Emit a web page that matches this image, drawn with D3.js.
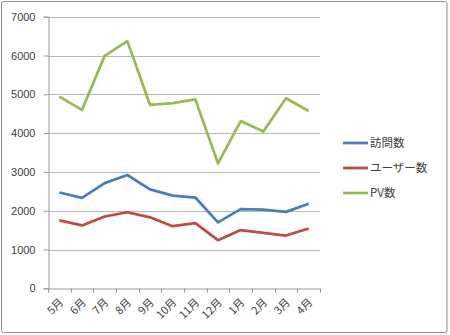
<!DOCTYPE html>
<html><head><meta charset="utf-8">
<script src="https://cdn.jsdelivr.net/npm/d3@7"></script>
<style>
html,body{margin:0;padding:0;background:#fff;}
svg{display:block;font-family:"Noto Sans CJK JP","Noto Sans",sans-serif;}
</style></head>
<body>
<script>
// Monthly access statistics
const months = ["5月","6月","7月","8月","9月","10月","11月","12月","1月","2月","3月","4月"];
const visits = [2470,2330,2710,2920,2550,2390,2340,1700,2040,2030,1970,2180];
const users  = [1750,1620,1850,1960,1830,1600,1680,1240,1500,1430,1360,1540];
const pv     = [4940,4600,5990,6370,4730,4770,4870,3220,4310,4040,4900,4570];
const seriesNames = ["訪問数","ユーザー数","PV数"];
const seriesColors = ["#4a7ebb","#be4b48","#98b954"];
const yTicks = [0,1000,2000,3000,4000,5000,6000,7000];

const W = 450, H = 335;
const svg = d3.select("body").append("svg").attr("width", W).attr("height", H);

// chart area border
svg.append("rect").attr("x",1.5).attr("y",1.5).attr("width",445.5).attr("height",331)
  .attr("fill","#fff").attr("stroke","#8c8c8c").attr("stroke-width",1).attr("rx",2);

const plotL = 48, plotR = 320, plotT = 16.7, plotB = 288.3;
const x = d3.scaleBand().domain(months).range([plotL, plotR]);
const y = d3.scaleLinear().domain([0, 7000]).range([plotB, plotT]);

// horizontal gridlines
svg.append("g").selectAll("line").data(yTicks.filter(d => d > 0)).join("line")
  .attr("x1", plotL).attr("x2", plotR)
  .attr("y1", d => Math.round(y(d)) + 0.5).attr("y2", d => Math.round(y(d)) + 0.5)
  .attr("stroke","#b8b8b8").attr("stroke-width",1);

// y axis
const yAxis = svg.append("g").attr("transform",`translate(${plotL+0.5},0)`)
  .call(d3.axisLeft(y).tickValues(yTicks).tickSize(5).tickPadding(8).tickFormat(d3.format("d")));
yAxis.select(".domain").attr("stroke","#9a9a9a");
yAxis.selectAll(".tick line").attr("stroke","#9a9a9a");
yAxis.selectAll("text").attr("fill","#404040").style("font-size","11px")
  .style("font-family","'Liberation Sans','DejaVu Sans',sans-serif");

// x axis
const xAxis = svg.append("g").attr("transform",`translate(0,${Math.round(plotB)+0.5})`)
  .call(d3.axisBottom(x).tickSize(4).tickFormat(""));
xAxis.select(".domain").attr("stroke","#9a9a9a");
xAxis.selectAll(".tick line").remove();
xAxis.selectAll(".edge").data(d3.range(months.length + 1)).join("line")
  .attr("x1", i => Math.round(plotL + i * x.step()) + 0.5)
  .attr("x2", i => Math.round(plotL + i * x.step()) + 0.5)
  .attr("y1", 0).attr("y2", 4).attr("stroke","#9a9a9a");

// rotated month labels
svg.append("g").selectAll("text").data(months).join("text")
  .attr("transform", d => `translate(${x(d) + x.bandwidth()/2 + 2},${plotB + 12}) rotate(-45)`)
  .attr("text-anchor","end")
  .attr("dy","0.35em")
  .attr("fill","#404040")
  .style("font-size","11px")
  .text(d => d);

// series lines
const series = [visits, users, pv];
const line = d3.line().x((d,i) => x(months[i]) + x.bandwidth()/2).y(d => y(d));
svg.append("g").selectAll("path").data(series).join("path")
  .attr("d", d => line(d))
  .attr("fill","none")
  .attr("stroke", (d,i) => seriesColors[i])
  .attr("stroke-width", 2.75)
  .attr("stroke-linejoin","round");

// legend
const lg = svg.append("g").selectAll("g").data(seriesNames).join("g")
  .attr("transform", (d,i) => `translate(343,${143 + i*25})`);
lg.append("line").attr("x1",0).attr("x2",25).attr("y1",0).attr("y2",0)
  .attr("stroke", (d,i) => seriesColors[i]).attr("stroke-width",2.75);
lg.append("text").attr("x",27).attr("dy","0.35em")
  .attr("fill","#404040").style("font-size","11.5px").text(d => d);
</script>
</body></html>
